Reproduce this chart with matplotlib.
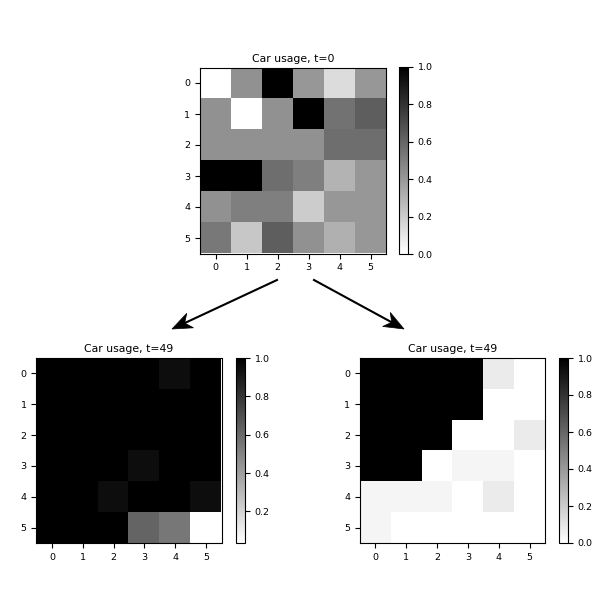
import numpy as np
import matplotlib
matplotlib.use('Agg')
import matplotlib.pyplot as plt
from matplotlib.patches import Polygon

# car usage grids (fraction of agents using the car)
usage_t0 = [
    [0.00, 0.43, 1.00, 0.41, 0.14, 0.41],
    [0.43, 0.00, 0.43, 1.00, 0.55, 0.63],
    [0.43, 0.43, 0.43, 0.43, 0.57, 0.57],
    [1.00, 1.00, 0.57, 0.50, 0.30, 0.41],
    [0.43, 0.50, 0.50, 0.20, 0.41, 0.41],
    [0.53, 0.22, 0.63, 0.43, 0.31, 0.41],
]
usage_t49_a = [
    [1.00, 1.00, 1.00, 1.00, 0.95, 1.00],
    [1.00, 1.00, 1.00, 1.00, 1.00, 1.00],
    [1.00, 1.00, 1.00, 1.00, 1.00, 1.00],
    [1.00, 1.00, 1.00, 0.95, 1.00, 1.00],
    [1.00, 1.00, 0.95, 1.00, 1.00, 0.95],
    [1.00, 1.00, 1.00, 0.62, 0.55, 0.035],
]
usage_t49_b = [
    [1.00, 1.00, 1.00, 1.00, 0.08, 0.00],
    [1.00, 1.00, 1.00, 1.00, 0.00, 0.00],
    [1.00, 1.00, 1.00, 0.00, 0.00, 0.08],
    [1.00, 1.00, 0.00, 0.04, 0.04, 0.00],
    [0.04, 0.04, 0.04, 0.00, 0.08, 0.00],
    [0.04, 0.00, 0.00, 0.00, 0.00, 0.00],
]
titles = ['Car usage, t=0', 'Car usage, t=49', 'Car usage, t=49']


def heatmap(fig, rect, cbar_rect, data, title):
    ax = fig.add_axes(rect)
    im = ax.imshow(np.array(data), cmap='gray_r')
    ax.set_title(title, fontsize=7.8, pad=4)
    ax.set_xticks(range(6))
    ax.set_yticks(range(6))
    ax.tick_params(labelsize=6.8, length=3.5)
    cax = fig.add_axes(cbar_rect)
    cb = fig.colorbar(im, cax=cax)
    cb.ax.tick_params(labelsize=6.8, length=3.5)
    return ax


def px(x0, y0, x1, y1):
    # pixel box (top-left origin) -> figure fraction rect
    return [x0 / 600, 1 - y1 / 600, (x1 - x0) / 600, (y1 - y0) / 600]


def arrow(fig, start, end, head_len=20, head_w=8, notch=6):
    s = np.array(start, float)
    e = np.array(end, float)
    d = (e - s) / np.linalg.norm(e - s)
    n = np.array([-d[1], d[0]])
    base = e - d * head_len
    back = e - d * (head_len - notch)
    pts = [e, base + n * head_w, back, base - n * head_w]
    to_fig = lambda p: (p[0] / 600, 1 - p[1] / 600)
    fig.lines.append(plt.Line2D([to_fig(s)[0], to_fig(back)[0]], [to_fig(s)[1], to_fig(back)[1]],
                                transform=fig.transFigure, color='black', lw=1.5))
    fig.patches.append(Polygon([to_fig(p) for p in pts], closed=True, transform=fig.transFigure,
                               facecolor='black', edgecolor='black', lw=0.5))


fig = plt.figure(figsize=(6, 6), dpi=100)
heatmap(fig, px(200, 67, 386, 254), px(399, 67, 408, 254), usage_t0, titles[0])
heatmap(fig, px(36, 358, 222, 543), px(236, 358, 245, 543), usage_t49_a, titles[1])
heatmap(fig, px(360, 358, 545, 543), px(559, 358, 568, 543), usage_t49_b, titles[2])

# arrows from the initial state to the two outcomes
arrow(fig, (277, 280), (172, 329))
arrow(fig, (314, 280), (404, 329))

fig.savefig('out.png', dpi=100)
